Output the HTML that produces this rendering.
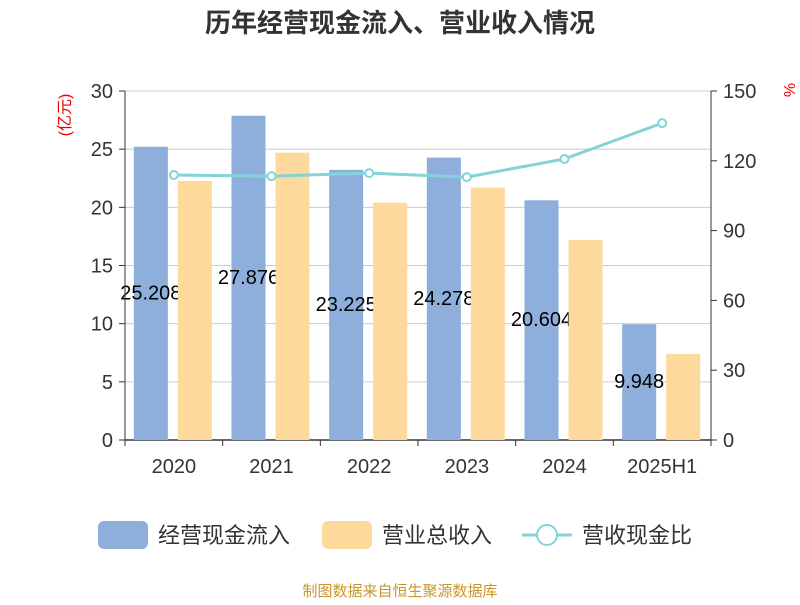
<!DOCTYPE html>
<html><head><meta charset="utf-8"><style>
body{margin:0;background:#fff;font-family:"Liberation Sans","Noto Sans CJK SC",sans-serif}
</style></head><body>
<svg id="c" width="800" height="600" xmlns="http://www.w3.org/2000/svg">
<text x="400" y="32" text-anchor="middle" font-size="26" font-weight="bold" fill="#333" font-family="Liberation Sans,Noto Sans CJK SC,sans-serif">历年经营现金流入、营业收入情况</text>
<text transform="translate(70,115) rotate(-90)" text-anchor="middle" font-size="16" fill="#e00" font-family="Liberation Sans,Noto Sans CJK SC,sans-serif">(亿元)</text>
<text transform="translate(784,90) rotate(90)" text-anchor="middle" font-size="16" fill="#e00">%</text>
<g id="grid"></g><g id="bars"></g><g id="labels"></g><g id="line"></g><g id="axes"></g>
<g font-size="22" fill="#333" font-family="Liberation Sans,Noto Sans CJK SC,sans-serif">
<rect x="98" y="521" width="50" height="28" rx="6" fill="#8eaedb"/>
<text x="158" y="543">经营现金流入</text>
<rect x="322" y="521" width="50" height="28" rx="6" fill="#fed99c"/>
<text x="382" y="543">营业总收入</text>
<line x1="522" y1="535" x2="572" y2="535" stroke="#83d3d9" stroke-width="3"/>
<circle cx="547" cy="535" r="10" fill="#fff" stroke="#83d3d9" stroke-width="2"/>
<text x="582" y="543">营收现金比</text>
</g>
<text x="400" y="596" text-anchor="middle" font-size="15" fill="#c9962d" font-family="Liberation Sans,Noto Sans CJK SC,sans-serif">制图数据来自恒生聚源数据库</text>
</svg>
<script>
const categories=["2020","2021","2022","2023","2024","2025H1"];
const cashInflow=[25.208,27.876,23.225,24.278,20.604,9.948];
const revenue=[22.27,24.7,20.4,21.7,17.2,7.4];
const ratio=[113.9,113.4,114.7,113.0,120.8,136.2];
const leftTicks=[0,5,10,15,20,25,30];
const rightTicks=[0,30,60,90,120,150];
const NS="http://www.w3.org/2000/svg";
const X0=125,X1=711,Y0=440,Y1=91;
const bw=(X1-X0)/categories.length;
const yL=v=>Y0-(v/30)*(Y0-Y1);
const yR=v=>Y0-(v/150)*(Y0-Y1);
const xc=i=>X0+bw*(i+0.5);
function mk(tag,attrs,parent,text){const e=document.createElementNS(NS,tag);for(const k in attrs)e.setAttribute(k,attrs[k]);if(text!==undefined)e.textContent=text;document.getElementById(parent).appendChild(e);return e;}
leftTicks.forEach((t,i)=>{
 const g=mk('line',{x1:X0,x2:X1,y1:yL(t),y2:yL(t),stroke:t===0?'#333':'#ccc','stroke-width':t===0?1.5:1},'grid');
 
 
 const l=mk('text',{x:X0-12,y:yL(t)+7,'text-anchor':'end','font-size':20,fill:'#333'},'axes',String(t));
 
 
 const tk=mk('line',{x1:X0-6,x2:X0,y1:yL(t),y2:yL(t),stroke:'#333'},'axes');
 
 
});
rightTicks.forEach(t=>{
 const l=mk('text',{x:X1+12,y:yR(t)+7,'text-anchor':'start','font-size':20,fill:'#333'},'axes',String(t));
 
 
 const tk=mk('line',{x1:X1,x2:X1+6,y1:yR(t),y2:yR(t),stroke:'#333'},'axes');
 
 
});
let a=mk('line',{x1:X0,x2:X0,y1:Y1,y2:Y0,stroke:'#333'},'axes');


a=mk('line',{x1:X1,x2:X1,y1:Y1,y2:Y0,stroke:'#333'},'axes');


for(let i=0;i<=categories.length;i++){
 const tk=mk('line',{x1:X0+bw*i,x2:X0+bw*i,y1:Y0,y2:Y0+6,stroke:'#333'},'axes');
 
 
}
categories.forEach((c,i)=>{
 const l=mk('text',{x:xc(i),y:Y0+33,'text-anchor':'middle','font-size':20,fill:'#333'},'axes',c);
 
 
 const b1=mk('rect',{x:xc(i)-40,y:yL(cashInflow[i]),width:34,height:Y0-yL(cashInflow[i]),fill:'#8eaedb'},'bars');
 
 
 const lb=mk('text',{x:xc(i)-23,y:(Y0+yL(cashInflow[i]))/2+6,'text-anchor':'middle','font-size':20,fill:'#000'},'bars',cashInflow[i].toFixed(3));
 
 
});
categories.forEach((c,i)=>{
 const b2=mk('rect',{x:xc(i)+4,y:yL(revenue[i]),width:34,height:Y0-yL(revenue[i]),fill:'#fed99c'},'bars');
 
 
});
const pl=mk('polyline',{points:ratio.map((v,i)=>xc(i)+','+yR(v)).join(' '),fill:'none',stroke:'#83d3d9','stroke-width':3},'line');


ratio.forEach((v,i)=>{
 const p=mk('circle',{cx:xc(i),cy:yR(v),r:4,fill:'#fff',stroke:'#83d3d9','stroke-width':2},'line');
 
 
});
</script>
</body></html>
